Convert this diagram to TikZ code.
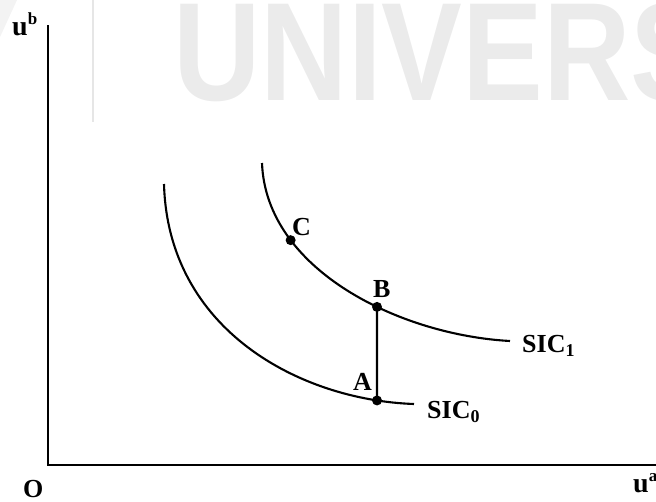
\documentclass[tikz,border=0pt]{standalone}
\usepackage{fontspec}
\setmainfont{Liberation Serif}
\newfontfamily\wmfont{Liberation Sans}
\usetikzlibrary{intersections}
\definecolor{wmgray}{HTML}{EBEBEB}
\definecolor{wmline}{HTML}{E6E6E6}
\newcommand{\lbl}[1]{\fontsize{26}{26}\selectfont\bfseries #1}
\newcommand{\sublbl}[1]{\raisebox{-4pt}{\fontsize{18}{18}\selectfont\bfseries #1}}
\newcommand{\axlbl}[2]{\fontsize{28}{28}\selectfont\bfseries #1\raisebox{11pt}{\fontsize{17}{17}\selectfont\bfseries #2}}
\begin{document}
\begin{tikzpicture}[x=1pt,y=-1pt,
  curve/.style={line width=2.1pt,black},
  axisline/.style={line width=2.2pt,black},
  dotnode/.style={circle,fill=black,inner sep=0pt,minimum size=10pt},
  txt/.style={anchor=base west,inner sep=0pt}]
\useasboundingbox (0,0) rectangle (656,501);
% watermark
\fill[wmgray!60] (0,0) -- (17,0) -- (0,37) -- cycle;
\coordinate (wl1) at (93,0);
\coordinate (wl2) at (93,122);
\draw[wmline,line width=2pt] (wl1) -- (wl2);
\node[txt,text=wmgray] (wm) at (173,100) {\scalebox{0.865}[1]{\wmfont\bfseries\fontsize{140}{140}\selectfont UNIVERS}};
% axes
\coordinate (top) at (48,25);
\coordinate (O) at (48,465);
\coordinate (right) at (656,465);
\draw[axisline] (top) -- (O) -- (right);
% curves
\coordinate (s0) at (164,184);
\coordinate (e0) at (414,404);
\coordinate (s1) at (262,163);
\coordinate (e1) at (510,341);
\draw[curve,name path=sic0] (s0) .. controls (168,330) and (300,400) .. (e0);
\draw[curve,name path=sic1] (s1) .. controls (266,270) and (400,335) .. (e1) coordinate[pos=0.27] (Cc);
\path[name path=vl] (377,120) -- (377,460);
\path[name intersections={of=vl and sic1,by=Bc}];
\path[name intersections={of=vl and sic0,by=Ac}];
\draw[curve] (Ac) -- (Bc);
\node[dotnode] (A) at (Ac) {};
\node[dotnode] (B) at (Bc) {};
\node[dotnode] (C) at (Cc) {};
% labels
\node[txt] (lA) at (353,390) {\lbl{A}};
\node[txt] (lB) at (373,297) {\lbl{B}};
\node[txt] (lC) at (292,235) {\lbl{C}};
\node[txt] (lS0) at (427,418) {\lbl{SIC}\sublbl{0}};
\node[txt] (lS1) at (522,352) {\lbl{SIC}\sublbl{1}};
\node[txt] (lO) at (23,497) {\lbl{O}};
\node[txt] (lua) at (633,492) {\axlbl{u}{a}};
\node[txt] (lub) at (12,35) {\axlbl{u}{b}};
\end{tikzpicture}
\end{document}
